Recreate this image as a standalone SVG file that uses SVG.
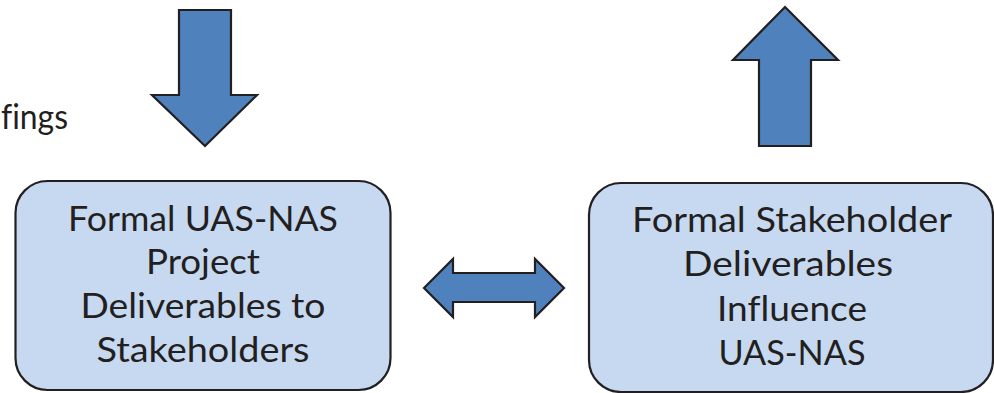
<svg xmlns="http://www.w3.org/2000/svg" width="994" height="393" viewBox="0 0 994 393">
  <style>
    .box { fill: #c6d9f1; stroke: #231f20; stroke-width: 2.2; }
    .arrow { fill: #4f81bd; stroke: #231f20; stroke-width: 2.2; stroke-linejoin: miter; }
    .label { font-family: Lato, "Open Sans", "Liberation Sans", sans-serif; font-size: 35px; fill: #231f20; text-anchor: middle; font-variant-ligatures: none; }
    .side { font-family: Lato, "Open Sans", "Liberation Sans", sans-serif; font-size: 35px; fill: #231f20; text-anchor: start; font-variant-ligatures: none; }
  </style>
  <rect width="994" height="393" fill="#ffffff"/>

  <!-- caption at the left edge -->
  <text class="side" x="1" y="129" textLength="67" lengthAdjust="spacingAndGlyphs">fings</text>

  <g id="project-deliverables">
    <rect class="box" x="15.5" y="181" width="375" height="209" rx="32" ry="32"/>
    <text class="label" x="203" y="231" textLength="270" lengthAdjust="spacingAndGlyphs">Formal UAS-NAS</text>
    <text class="label" x="203" y="274" textLength="114" lengthAdjust="spacingAndGlyphs">Project</text>
    <text class="label" x="203" y="318" textLength="245" lengthAdjust="spacingAndGlyphs">Deliverables to</text>
    <text class="label" x="203" y="362" textLength="213" lengthAdjust="spacingAndGlyphs">Stakeholders</text>
  </g>

  <g id="stakeholder-deliverables">
    <rect class="box" x="589" y="183" width="404" height="209" rx="32" ry="32"/>
    <text class="label" x="792" y="232" textLength="320" lengthAdjust="spacingAndGlyphs">Formal Stakeholder</text>
    <text class="label" x="788" y="276" textLength="210" lengthAdjust="spacingAndGlyphs">Deliverables</text>
    <text class="label" x="792" y="321" textLength="150" lengthAdjust="spacingAndGlyphs">Influence</text>
    <text class="label" x="792" y="365" textLength="147" lengthAdjust="spacingAndGlyphs">UAS-NAS</text>
  </g>

  <g id="connectors">
    <!-- incoming block arrow into the project box -->
    <polygon class="arrow" points="179,10 231,10 231,95 257,95 205,146 152,95 179,95"/>
    <!-- outgoing block arrow from the stakeholder box -->
    <polygon class="arrow" points="785,7 838,60 811,60 811,146 759,146 759,60 733,60"/>
    <!-- two-way exchange between the boxes -->
    <polygon class="arrow" points="424,288 453,259 453,273 535,273 535,259 564,288 535,317 535,302 453,302 453,317"/>
  </g>
</svg>
